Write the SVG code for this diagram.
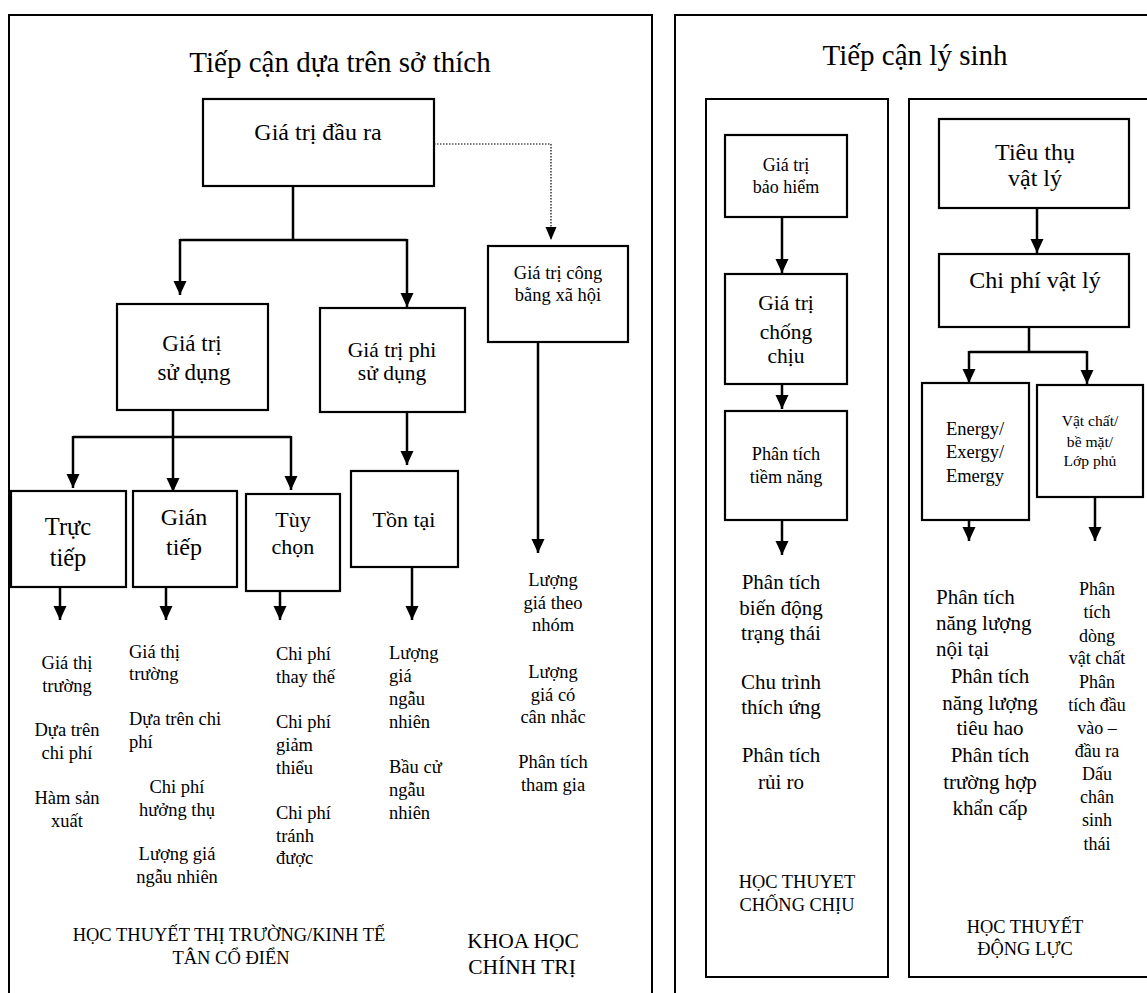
<svg xmlns="http://www.w3.org/2000/svg" width="1147" height="993" viewBox="0 0 1147 993">
<defs>
<marker id="ah" markerUnits="userSpaceOnUse" markerWidth="14" markerHeight="14" refX="14" refY="7" orient="auto" viewBox="0 0 14 14"><path d="M0,0.5 L14,7 L0,13.5 z" fill="#000"/></marker>
<marker id="ahs" markerUnits="userSpaceOnUse" markerWidth="13" markerHeight="12" refX="13" refY="6" orient="auto" viewBox="0 0 13 12"><path d="M0,0.5 L13,6 L0,11.5 z" fill="#000"/></marker>
</defs>
<style>
text{font-family:"Liberation Serif","Times New Roman",serif;fill:#000;text-anchor:middle}
.l{text-anchor:start}
.box{fill:#fff;stroke:#000;stroke-width:2.2}
.panel{fill:none;stroke:#000;stroke-width:2}
.c{fill:none;stroke:#000;stroke-width:2.5}
.ca{fill:none;stroke:#000;stroke-width:2.5;marker-end:url(#ah)}
.dot{fill:none;stroke:#000;stroke-width:1.2;stroke-dasharray:1.5 1.5;marker-end:url(#ahs)}
</style>
<rect width="1147" height="993" fill="#fff"/>

<g id="panel-left">
<path class="panel" d="M9,995 V15 H652 V995"/>
<text x="340" y="72" font-size="29">Tiếp cận dựa trên sở thích</text>
</g>
<g id="panel-right">
<path class="panel" d="M675,995 V15 H1150"/>
<text x="915" y="65" font-size="29">Tiếp cận lý sinh</text>
</g>
<g id="panel-resilience">
<rect class="panel" x="706" y="99" width="182" height="878"/>
</g>
<g id="panel-dynamics">
<path class="panel" d="M1150,99 H909 V977 H1150"/>
</g>

<g id="connectors">
<path class="c" d="M293,186 V240 M180,240 H407"/>
<path class="ca" d="M180,239 V295"/>
<path class="ca" d="M407,239 V307"/>
<path class="dot" d="M434,144 H551 V240"/>
<path class="ca" d="M538,342 V553"/>
<path class="c" d="M173,410 V437 M73,437 H291"/>
<path class="ca" d="M73,436 V488"/>
<path class="ca" d="M173,436 V492"/>
<path class="ca" d="M291,436 V490"/>
<path class="ca" d="M407,412 V465"/>
<path class="ca" d="M60,587 V620"/>
<path class="ca" d="M166,587 V620"/>
<path class="ca" d="M280,588 V620"/>
<path class="ca" d="M412,567 V620"/>
<path class="ca" d="M782,217 V273"/>
<path class="ca" d="M782,384 V409"/>
<path class="ca" d="M782,520 V555"/>
<path class="ca" d="M1037,208 V253"/>
<path class="c" d="M1029,327 V352 M969,352 H1087"/>
<path class="ca" d="M969,351 V383"/>
<path class="ca" d="M1087,351 V384"/>
<path class="ca" d="M969,496 V541"/>
<path class="ca" d="M1095,497 V541"/>
</g>

<g id="n-output">
<rect class="box" x="203" y="99" width="231" height="87"/>
<text x="318" y="140" font-size="24">Giá trị đầu ra</text>
</g>
<g id="n-social">
<rect class="box" x="488" y="246" width="140" height="96"/>
<text x="558" y="279" font-size="18.5">Giá trị công</text>
<text x="558" y="301" font-size="18.5">bằng xã hội</text>
</g>
<g id="n-use">
<rect class="box" x="117" y="304" width="151" height="106"/>
<text x="192" y="351" font-size="23">Giá trị</text>
<text x="194" y="380" font-size="23">sử dụng</text>
</g>
<g id="n-nonuse">
<rect class="box" x="320" y="308" width="145" height="104"/>
<text x="392" y="357" font-size="21.5">Giá trị phi</text>
<text x="392" y="380" font-size="21.5">sử dụng</text>
</g>
<g id="n-direct">
<rect class="box" x="11" y="491" width="115" height="96"/>
<text x="68" y="535" font-size="24.5">Trực</text>
<text x="68" y="566" font-size="24.5">tiếp</text>
</g>
<g id="n-indirect">
<rect class="box" x="133" y="491" width="104" height="96"/>
<text x="184" y="525" font-size="24">Gián</text>
<text x="184" y="555" font-size="24">tiếp</text>
</g>
<g id="n-option">
<rect class="box" x="246" y="494" width="94" height="97"/>
<text x="293" y="527" font-size="22">Tùy</text>
<text x="293" y="554" font-size="22">chọn</text>
</g>
<g id="n-existence">
<rect class="box" x="351" y="471" width="107" height="96"/>
<text x="404" y="527" font-size="22">Tồn tại</text>
</g>

<g id="list-social" font-size="18.5">
<text x="553" y="586">Lượng</text>
<text x="553" y="609">giá theo</text>
<text x="553" y="631">nhóm</text>
<text x="553" y="678">Lượng</text>
<text x="553" y="701">giá có</text>
<text x="553" y="723">cân nhắc</text>
<text x="553" y="768">Phân tích</text>
<text x="553" y="791">tham gia</text>
</g>
<g id="list-direct" font-size="18.5">
<text x="67" y="669">Giá thị</text>
<text x="67" y="692">trường</text>
<text x="67" y="736">Dựa trên</text>
<text x="67" y="759">chi phí</text>
<text x="67" y="804">Hàm sản</text>
<text x="67" y="827">xuất</text>
</g>
<g id="list-indirect" font-size="18.5">
<text class="l" x="129" y="658">Giá thị</text>
<text class="l" x="129" y="680">trường</text>
<text class="l" x="129" y="725">Dựa trên chi</text>
<text class="l" x="129" y="748">phí</text>
<text x="177" y="793">Chi phí</text>
<text x="177" y="816">hưởng thụ</text>
<text x="177" y="860">Lượng giá</text>
<text x="177" y="883">ngẫu nhiên</text>
</g>
<g id="list-option" font-size="18.5">
<text class="l" x="276" y="660">Chi phí</text>
<text class="l" x="276" y="683">thay thế</text>
<text class="l" x="276" y="728">Chi phí</text>
<text class="l" x="276" y="751">giảm</text>
<text class="l" x="276" y="774">thiểu</text>
<text class="l" x="276" y="819">Chi phí</text>
<text class="l" x="276" y="842">tránh</text>
<text class="l" x="276" y="864">được</text>
</g>
<g id="list-existence" font-size="18.5">
<text class="l" x="389" y="659">Lượng</text>
<text class="l" x="389" y="682">giá</text>
<text class="l" x="389" y="705">ngẫu</text>
<text class="l" x="389" y="728">nhiên</text>
<text class="l" x="389" y="773">Bầu cử</text>
<text class="l" x="389" y="796">ngẫu</text>
<text class="l" x="389" y="819">nhiên</text>
</g>
<g id="theory-market" font-size="18.5">
<text x="229" y="941">HỌC THUYẾT THỊ TRƯỜNG/KINH TẾ</text>
<text x="231" y="964">TÂN CỔ ĐIỂN</text>
</g>
<g id="theory-political" font-size="21.5">
<text x="523" y="948">KHOA HỌC</text>
<text x="522" y="974">CHÍNH TRỊ</text>
</g>

<g id="n-insurance">
<rect class="box" x="725" y="135" width="122" height="82"/>
<text x="786" y="171" font-size="18">Giá trị</text>
<text x="786" y="193" font-size="18">bảo hiểm</text>
</g>
<g id="n-resilience">
<rect class="box" x="725" y="274" width="122" height="110"/>
<text x="786" y="310" font-size="21.5">Giá trị</text>
<text x="786" y="339" font-size="21.5">chống</text>
<text x="786" y="363" font-size="21.5">chịu</text>
</g>
<g id="n-potential">
<rect class="box" x="725" y="411" width="122" height="109"/>
<text x="786" y="460" font-size="18.3">Phân tích</text>
<text x="786" y="483" font-size="18.3">tiềm năng</text>
</g>
<g id="list-resilience" font-size="21">
<text x="781" y="589">Phân tích</text>
<text x="781" y="615">biến động</text>
<text x="781" y="640">trạng thái</text>
<text x="781" y="689">Chu trình</text>
<text x="781" y="714">thích ứng</text>
<text x="781" y="762">Phân tích</text>
<text x="781" y="789">rủi ro</text>
</g>
<g id="theory-resilience" font-size="18.4">
<text x="797" y="888">HỌC THUYET</text>
<text x="797" y="911">CHỐNG CHỊU</text>
</g>

<g id="n-consumption">
<rect class="box" x="939" y="119" width="190" height="89"/>
<text x="1035" y="160" font-size="24">Tiêu thụ</text>
<text x="1035" y="186" font-size="24">vật lý</text>
</g>
<g id="n-cost">
<rect class="box" x="939" y="254" width="190" height="73"/>
<text x="1035" y="288" font-size="24">Chi phí vật lý</text>
</g>
<g id="n-energy">
<rect class="box" x="922" y="383" width="107" height="137"/>
<text x="975" y="435" font-size="18.5">Energy/</text>
<text x="975" y="458" font-size="18.5">Exergy/</text>
<text x="975" y="482" font-size="18.5">Emergy</text>
</g>
<g id="n-material">
<rect class="box" x="1037" y="385" width="106" height="112"/>
<text x="1090" y="426" font-size="15.6">Vật chất/</text>
<text x="1090" y="447" font-size="15.6">bề mặt/</text>
<text x="1090" y="466" font-size="15.6">Lớp phủ</text>
</g>
<g id="list-energy" font-size="21">
<text class="l" x="936" y="604">Phân tích</text>
<text class="l" x="936" y="630">năng lượng</text>
<text class="l" x="936" y="656">nội tại</text>
<text x="990" y="683">Phân tích</text>
<text x="990" y="710">năng lượng</text>
<text x="990" y="735">tiêu hao</text>
<text x="990" y="762">Phân tích</text>
<text x="990" y="789">trường hợp</text>
<text x="990" y="815">khẩn cấp</text>
</g>
<g id="list-material" font-size="18">
<text x="1097" y="595">Phân</text>
<text x="1097" y="618">tích</text>
<text x="1097" y="642">dòng</text>
<text x="1097" y="664">vật chất</text>
<text x="1097" y="688">Phân</text>
<text x="1097" y="711">tích đầu</text>
<text x="1097" y="734">vào –</text>
<text x="1097" y="757">đầu ra</text>
<text x="1097" y="780">Dấu</text>
<text x="1097" y="803">chân</text>
<text x="1097" y="826">sinh</text>
<text x="1097" y="850">thái</text>
</g>
<g id="theory-dynamics" font-size="18.4">
<text x="1025" y="933">HỌC THUYẾT</text>
<text x="1025" y="955">ĐỘNG LỰC</text>
</g>
</svg>
